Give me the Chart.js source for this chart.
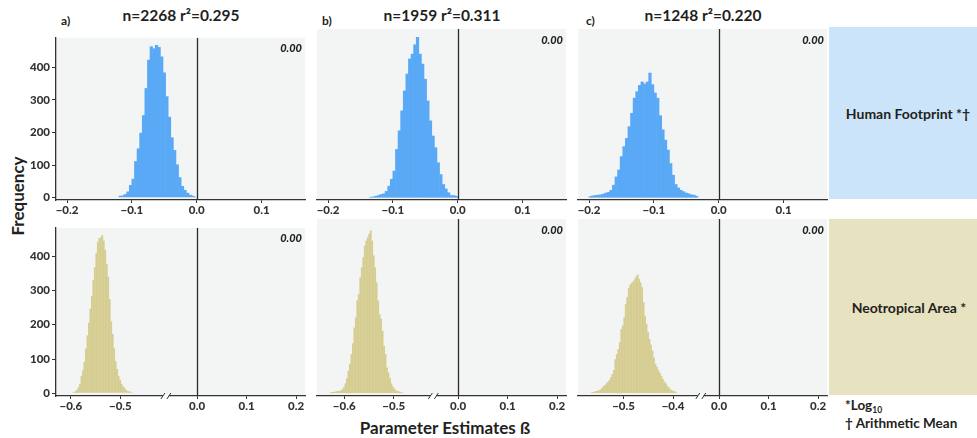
<!DOCTYPE html>
<html>
<head>
<meta charset="utf-8">
<script src="https://cdn.jsdelivr.net/npm/chart.js@4.4.1/dist/chart.umd.min.js"></script>
<style>
body{margin:0;background:#fff;width:977px;height:438px;overflow:hidden;position:relative;font-family:Lato,sans-serif;font-weight:700;color:#231f20}
canvas{position:absolute}
.t{position:absolute;white-space:nowrap;transform:translate(-50%,-50%)}
.l{position:absolute;white-space:nowrap;transform:translateY(-50%)}
.box{position:absolute}
</style>
</head>
<body>
<div class="t" style="left:181px;top:15px;font-size:15.5px">n=2268 r²=0.295</div>
<div class="t" style="left:442px;top:15px;font-size:15.5px">n=1959 r²=0.311</div>
<div class="t" style="left:703px;top:15px;font-size:15.5px">n=1248 r²=0.220</div>
<div class="l" style="left:61px;top:20px;font-size:12px">a)</div>
<div class="l" style="left:322px;top:20px;font-size:12px">b)</div>
<div class="l" style="left:586px;top:20px;font-size:12px">c)</div>
<div class="t" style="left:17px;top:196px;font-size:17px;transform:translate(-50%,-50%) rotate(-90deg)">Frequency</div>
<div class="t" style="left:445px;top:427px;font-size:17px">Parameter Estimates ß</div>
<div class="box" style="left:829px;top:27px;width:148px;height:172px;background:#cce4fa"></div>
<div class="box" style="left:829px;top:219px;width:148px;height:176px;background:#e7e2c0"></div>
<div class="t" style="left:908px;top:113px;font-size:14px">Human Footprint *†</div>
<div class="t" style="left:909px;top:307px;font-size:14px">Neotropical Area *</div>
<div class="l" style="left:845px;top:406px;font-size:13.5px">*Log<sub style="font-size:8.5px">10</sub></div>
<div class="l" style="left:845px;top:423px;font-size:13.5px">† Arithmetic Mean</div>

<script>
// tick values and labels
const topTicks=[-0.2,-0.1,0,0.1];
const topLabels=['−0.2','−0.1','0.0','0.1'];
const botTicksAB=[-0.6,-0.5,0,0.1,0.2];
const botLabelsAB=['−0.6','−0.5','0.0','0.1','0.2'];
const botTicksC=[-0.5,-0.4,0,0.1,0.2];
const botLabelsC=['−0.5','−0.4','0.0','0.1','0.2'];
const yTicks=[0,100,200,300,400];
const zeroNote='0.00';

// Human Footprint histograms (bin width 0.004, first bin centre)
const hfWidth=0.004;
const hfStartA=-0.118, hfStartB=-0.134, hfStartC=-0.198;
const hfCountsA=[6,7,11,19,39,58,112,151,199,253,336,423,464,458,468,462,433,384,311,248,185,146,102,63,36,24,15,9,6,3];
const hfCountsB=[2,3,5,7,10,12,19,34,54,78,141,195,253,311,360,404,418,445,467,418,389,345,282,224,180,146,102,68,39,26,15,7,7,5];
const hfCountsC=[4,6,7,8,9,11,14,16,22,37,61,81,120,149,173,207,246,290,309,327,337,331,337,363,329,305,290,239,198,168,139,100,66,39,29,22,18,14,12,9,8,5];

// Neotropical Area histograms (bin width 0.003)
const naWidth=0.003;
const naStartA=-0.5965, naStartB=-0.6275, naStartC=-0.5645;
const naCountsA=[2,4,6,10,18,27,51,67,92,131,169,206,247,284,331,368,409,442,453,456,462,446,419,377,340,275,210,173,131,94,71,51,39,28,20,16,10,7,6,4,2];
const naCountsB=[2,3,3,4,5,6,6,7,11,16,27,41,62,81,108,138,182,210,257,275,321,349,377,409,423,432,442,451,423,382,349,307,257,219,206,173,131,108,71,57,42,27,18,12,8,6,5,3,2,1];
const naCountsC=[2,3,4,6,6,8,10,14,19,22,27,31,36,44,53,64,94,108,122,141,178,187,210,247,266,292,301,306,310,316,323,329,317,307,294,252,215,192,169,150,134,118,99,81,73,64,56,48,39,32,27,20,16,11,8,6,5,2];

const colLeft=[56,317,578], plotW=249;
const rows=[
  {top:29,h:171,ymin:-7,ymax:490,xmin:-0.217,xmax:0.167,color:'#5aa9f6'},
  {top:219,h:177,ymin:-8,ymax:483,xmin:-0.285,xmax:0.218,color:'#d6cd92'}
];

const panels=[
  {row:0,col:0,start:hfStartA,w:hfWidth,counts:hfCountsA,ticks:topTicks,labels:topLabels},
  {row:0,col:1,start:hfStartB,w:hfWidth,counts:hfCountsB,ticks:topTicks,labels:topLabels},
  {row:0,col:2,start:hfStartC,w:hfWidth,counts:hfCountsC,ticks:topTicks,labels:topLabels},
  {row:1,col:0,start:naStartA,w:naWidth,counts:naCountsA,ticks:botTicksAB,labels:botLabelsAB,shift:0.345,cutAt:-0.063},
  {row:1,col:1,start:naStartB,w:naWidth,counts:naCountsB,ticks:botTicksAB,labels:botLabelsAB,shift:0.37,cutAt:-0.05},
  {row:1,col:2,start:naStartC,w:naWidth,counts:naCountsC,ticks:botTicksC,labels:botLabelsC,shift:0.307,cutAt:-0.037}
];

// left of the axis break values are moved right by shift
const disp=(p,v)=>(p.shift&&v<-0.3)?v+p.shift:v;

const panelDeco={
  id:'panelDeco',
  beforeDraw(c){
    const a=c.chartArea,ctx=c.ctx;
    ctx.save();ctx.fillStyle='#f3f5f5';
    ctx.fillRect(a.left,a.top,a.right-a.left,a.bottom-a.top);
    ctx.restore();
  },
  afterDatasetsDraw(c,args,o){
    const a=c.chartArea,ctx=c.ctx,x=Math.round(c.scales.x.getPixelForValue(0))+0.5;
    ctx.save();
    ctx.strokeStyle='#2b2b2b';ctx.lineWidth=1.3;
    ctx.beginPath();ctx.moveTo(x,a.top);ctx.lineTo(x,a.bottom);ctx.stroke();
    ctx.font='italic 900 11px Lato';ctx.fillStyle='#222';
    ctx.textAlign='right';ctx.textBaseline='middle';
    ctx.fillText(o.note,a.right-3,a.top+11);
    ctx.restore();
  },
  afterDraw(c,args,o){
    if(o.cut==null)return;
    const ctx=c.ctx,y=c.chartArea.bottom,x=c.scales.x.getPixelForValue(o.cut);
    ctx.save();
    ctx.fillStyle='#fff';ctx.fillRect(x-3,y-1.5,6,3.5);
    ctx.strokeStyle='#333';ctx.lineWidth=1;
    ctx.beginPath();
    ctx.moveTo(x-5,y+3);ctx.lineTo(x-1,y-3);
    ctx.moveTo(x+1,y+3);ctx.lineTo(x+5,y-3);
    ctx.stroke();ctx.restore();
  }
};

Chart.defaults.font.family='Lato';
Chart.defaults.color='#333';
const tickFont={size:11.5,weight:'900',family:'Lato'};

panels.forEach(p=>{
  const r=rows[p.row];
  const cv=document.createElement('canvas');
  cv.width=40+plotW+12;cv.height=r.h+24;
  cv.style.left=(colLeft[p.col]-40)+'px';cv.style.top=r.top+'px';
  document.body.appendChild(cv);
  const showY=p.col===0;
  new Chart(cv,{
    type:'bar',
    data:{datasets:[{
      data:p.counts.map((n,i)=>({x:disp(p,p.start+i*p.w),y:n})),
      backgroundColor:r.color,borderWidth:0,
      barPercentage:1.25,categoryPercentage:1
    }]},
    options:{
      responsive:false,animation:false,devicePixelRatio:1,
      layout:{padding:{left:0,right:12,top:0,bottom:0}},
      plugins:{legend:{display:false},tooltip:{enabled:false},
        panelDeco:{note:zeroNote,cut:p.cutAt}},
      scales:{
        x:{type:'linear',min:r.xmin,max:r.xmax,offset:false,
          afterBuildTicks:s=>{s.ticks=p.ticks.map(v=>({value:disp(p,v)}));},
          afterFit:s=>{s.height=24;},
          ticks:{autoSkip:false,maxRotation:0,padding:0,font:tickFont,
            callback:(v,i)=>p.labels[i]},
          grid:{display:true,offset:false,drawOnChartArea:false,drawTicks:true,tickLength:3,color:'#333'},
          border:{display:true,color:'#333',width:1.3}},
        y:{min:r.ymin,max:r.ymax,
          afterBuildTicks:s=>{s.ticks=yTicks.map(v=>({value:v}));},
          afterFit:s=>{s.width=40;},
          ticks:{display:showY,padding:2,font:tickFont},
          grid:{display:showY,drawOnChartArea:false,drawTicks:true,tickLength:4,color:'#333'},
          border:{display:showY,color:'#333',width:1.3}}
      }
    },
    plugins:[panelDeco]
  });
});
</script>
</body>
</html>
